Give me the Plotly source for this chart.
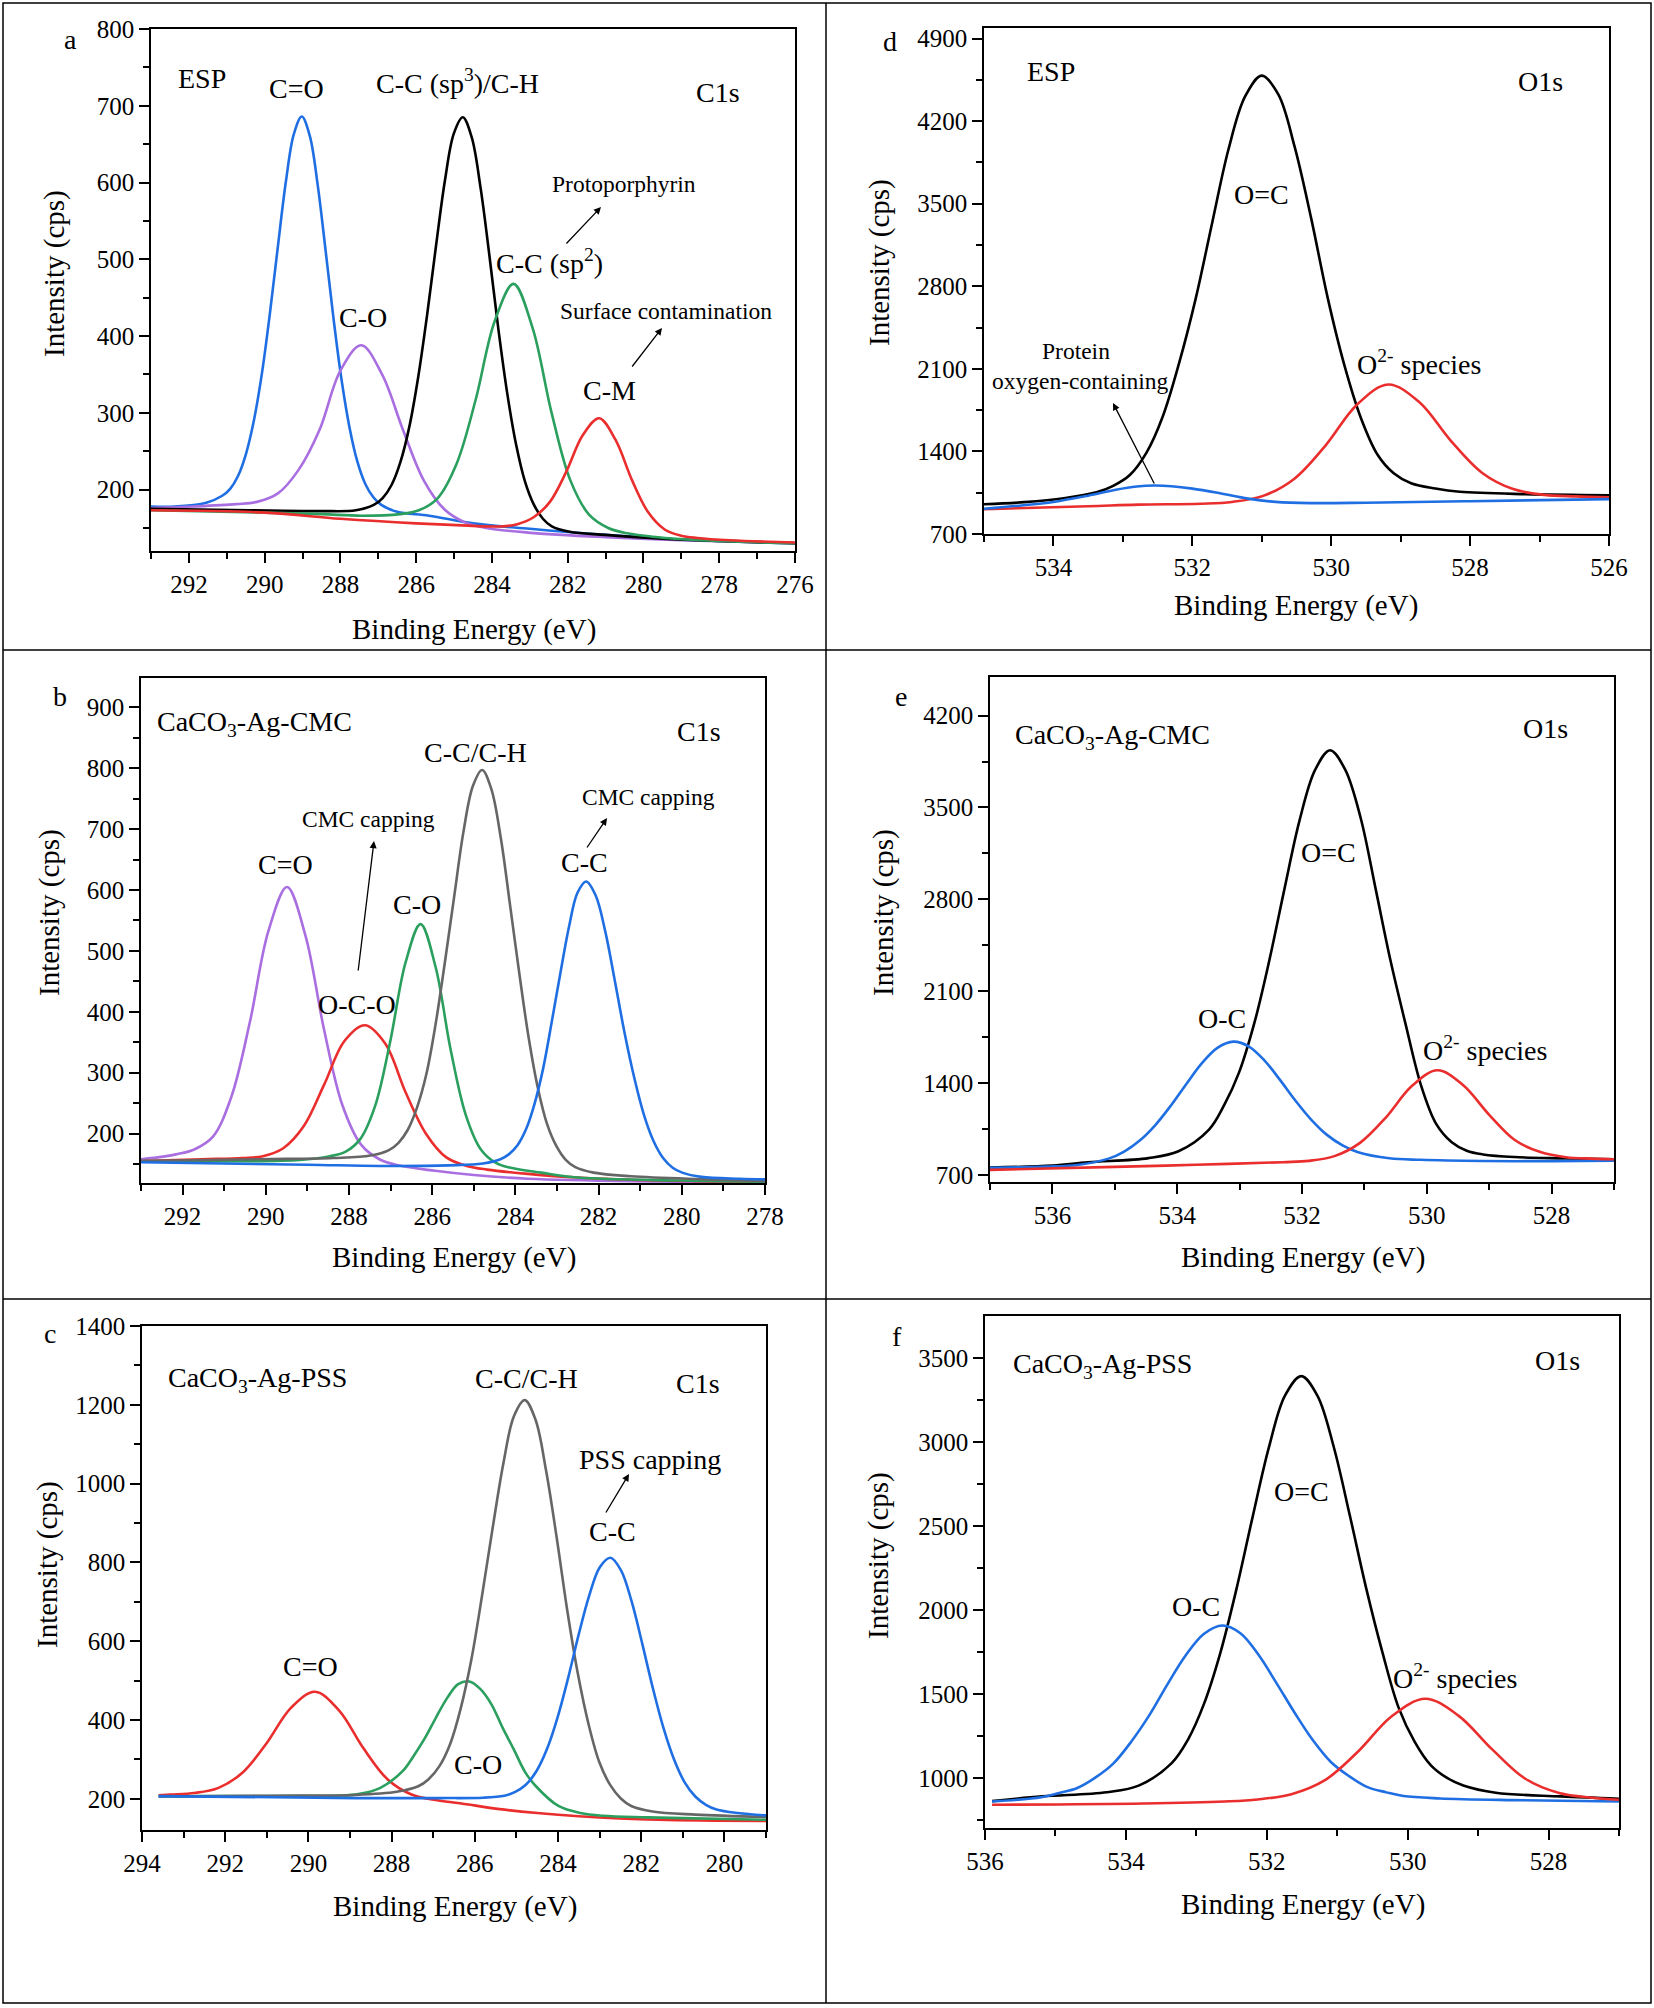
import plotly.graph_objects as go

W, H = 1654, 2008
FONT = "Liberation Serif"

BLUE = "#1f6fe3"
PURPLE = "#a96ee0"
GREEN = "#2a9f5e"
RED = "#ea2d2d"
BLACK = "#000000"
GRAY = "#666666"

# ---------------- data ----------------
# a: ESP, C1s
a_cdo_x = [293, 292.38, 291.54, 291.12, 290.91, 290.70, 290.49, 290.28, 290.07, 289.86, 289.65, 289.44, 289.23, 289.02, 288.81, 288.60, 288.39, 288.18, 287.97, 287.76, 287.55, 287.34, 287.13, 286.92, 286.50, 285.66, 284.5, 283, 281, 279, 276]
a_cdo_y = [178, 178, 183, 192, 201, 218, 247, 291, 352, 430, 517, 601, 663, 686, 661, 597, 511, 422, 343, 281, 236, 207, 190, 180, 171, 166, 156, 149, 141, 135, 130]
a_cc3_x = [293, 290.41, 288.53, 287.59, 287.12, 286.885, 286.65, 286.415, 286.18, 285.945, 285.71, 285.475, 285.24, 285.005, 284.77, 284.535, 284.30, 284.065, 283.83, 283.595, 283.36, 283.125, 282.89, 282.655, 282.42, 281.95, 281.01, 279.5, 278, 276]
a_cc3_y = [175, 173, 172, 173, 180, 189, 206, 236, 282, 347, 428, 518, 603, 664, 685, 659, 593, 504, 409, 325, 258, 210, 180, 162, 152, 145, 141, 136, 133, 130]
a_co_x = [293, 291.85, 290.75, 290.2, 289.65, 289.1, 288.55, 288.0, 287.45, 286.9, 286.35, 285.8, 285.25, 284.7, 284.15, 283.05, 281, 279, 276]
a_co_y = [176, 178, 181, 184, 195, 226, 278, 355, 388, 350, 278, 212, 174, 157, 150, 144, 138, 134, 130]
a_cc2_x = [293, 290, 288.5, 287.43, 286.43, 285.93, 285.43, 284.93, 284.43, 283.93, 283.43, 282.93, 282.43, 281.93, 281.43, 280.93, 280.43, 279.43, 278, 276]
a_cc2_y = [173, 170, 168, 166, 168, 173, 189, 234, 317, 419, 468, 411, 301, 212, 167, 150, 143, 137, 133, 130]
a_cm_x = [293, 290, 288, 286, 284.63, 283.77, 283.33, 282.90, 282.47, 282.04, 281.60, 281.17, 280.74, 280.30, 279.87, 279.44, 279.01, 278.58, 277.71, 276]
a_cm_y = [173, 170, 162, 156, 153, 152, 155, 164, 184, 223, 271, 293, 265, 212, 170, 148, 140, 137, 134, 131]

# b: CaCO3-Ag-CMC, C1s
b_cdo_x = [293, 292.6, 292.16, 291.72, 291.27, 290.83, 290.38, 289.94, 289.49, 289.05, 288.60, 288.16, 287.71, 287.27, 286.82, 285.93, 285, 283.7, 281.2, 278]
b_cdo_y = [158, 161, 166, 174, 195, 260, 384, 532, 605, 526, 371, 247, 182, 158, 148, 139, 132, 126, 122, 121]
b_oco_x = [293, 291.54, 290.56, 290.07, 289.58, 289.09, 288.60, 288.11, 287.62, 287.13, 286.64, 286.15, 285.66, 285.17, 284.68, 283.7, 282.5, 280.5, 278]
b_oco_y = [155, 158, 160, 163, 176, 212, 280, 352, 378, 348, 268, 200, 161, 147, 141, 134, 128, 123, 121]
b_co_x = [293, 289.18, 288.46, 288.09, 287.73, 287.37, 287.01, 286.64, 286.28, 285.92, 285.56, 285.19, 284.83, 284.47, 284.11, 283.38, 282.5, 280, 278]
b_co_y = [155, 157, 163, 170, 191, 246, 351, 481, 544, 474, 339, 230, 174, 152, 144, 136, 128, 123, 121]
b_cch_x = [293, 290.17, 288.38, 287.485, 287.04, 286.81, 286.59, 286.37, 286.14, 285.92, 285.70, 285.47, 285.25, 285.02, 284.80, 284.58, 284.35, 284.13, 283.90, 283.68, 283.46, 283.24, 283.01, 282.79, 282.56, 282.12, 281.22, 279.43, 278]
b_cch_y = [155, 158, 160, 164, 173, 185, 206, 242, 298, 379, 479, 590, 695, 771, 797, 766, 685, 576, 460, 357, 275, 216, 179, 157, 145, 136, 130, 125, 122]
b_cc_x = [293, 289, 287.25, 285.6, 284.78, 284.36, 284.16, 283.95, 283.74, 283.54, 283.33, 283.13, 282.92, 282.71, 282.51, 282.3, 282.07, 281.84, 281.61, 281.38, 281.14, 280.91, 280.68, 280.45, 280.22, 279.99, 279.53, 278.6, 278]
b_cc_y = [153, 149, 147, 148, 151, 158, 166, 181, 208, 249, 308, 382, 463, 540, 595, 614, 591, 532, 451, 367, 291, 231, 188, 160, 144, 136, 129, 126, 125]

# c: CaCO3-Ag-PSS, C1s
c_cdo_x = [293.6, 293.32, 292.74, 292.16, 291.58, 291.0, 290.42, 289.84, 289.26, 288.68, 288.10, 287.52, 286.94, 286.36, 285.4, 284.5, 283.5, 281.6, 279]
c_cdo_y = [209, 211, 215, 228, 267, 342, 431, 472, 424, 329, 250, 211, 197, 189, 174, 164, 156, 147, 144]
c_co_x = [293.6, 292.55, 290.41, 289.34, 288.8, 288.27, 287.73, 287.47, 287.2, 286.93, 286.67, 286.4, 286.13, 285.87, 285.6, 285.33, 285.06, 284.79, 284.53, 283.99, 283.46, 282.92, 281.85, 279]
c_co_y = [206, 207, 207, 208, 212, 228, 271, 309, 354, 407, 455, 491, 498, 479, 440, 380, 325, 268, 232, 182, 164, 157, 153, 147]
c_cch_x = [293.6, 290.95, 288.9, 287.88, 287.36, 287.11, 286.85, 286.59, 286.34, 286.08, 285.83, 285.57, 285.31, 285.06, 284.8, 284.54, 284.29, 284.03, 283.78, 283.52, 283.26, 283.01, 282.75, 282.49, 282.24, 281.73, 280.7, 279]
c_cch_y = [206, 208, 210, 218, 232, 250, 283, 340, 429, 555, 713, 888, 1053, 1171, 1212, 1162, 1035, 862, 680, 516, 387, 294, 236, 201, 182, 168, 160, 154]
c_cc_x = [293.6, 288.86, 286.82, 285.8, 285.29, 285.04, 284.78, 284.52, 284.27, 284.015, 283.76, 283.505, 283.25, 282.995, 282.74, 282.485, 282.23, 281.975, 281.72, 281.465, 281.21, 280.955, 280.70, 280.445, 280.19, 279.68, 279]
c_cc_y = [207, 202, 202, 203, 208, 217, 235, 270, 325, 405, 505, 616, 716, 788, 812, 780, 701, 594, 481, 380, 300, 242, 206, 185, 173, 164, 158]

# d: ESP, O1s
d_odc_x = [535, 534.42, 533.85, 533.38, 533.14, 532.9, 532.66, 532.43, 532.19, 531.95, 531.71, 531.48, 531.24, 531.0, 530.76, 530.53, 530.29, 530.05, 529.81, 529.57, 529.33, 529.1, 528.85, 528.5, 528.15, 527.2, 526]
d_odc_y = [952, 970, 1003, 1053, 1108, 1200, 1390, 1690, 2150, 2700, 3350, 3960, 4410, 4586, 4425, 3990, 3380, 2700, 2130, 1680, 1370, 1215, 1130, 1085, 1058, 1038, 1028]
d_o2_x = [535, 533.5, 532.78, 531.88, 531.43, 530.98, 530.53, 530.08, 529.63, 529.18, 528.73, 528.28, 527.83, 527.38, 526.93, 526.48, 526]
d_o2_y = [910, 935, 949, 957, 972, 1023, 1169, 1452, 1796, 1968, 1817, 1492, 1220, 1081, 1032, 1019, 1012]
d_prot_x = [535, 534.5, 534, 533.5, 533.1, 532.8, 532.55, 532.3, 532.0, 531.6, 531.2, 530.8, 530.3, 529.5, 528, 526]
d_prot_y = [914, 940, 972, 1025, 1075, 1102, 1111, 1105, 1085, 1045, 1000, 972, 962, 965, 978, 996]

# e: CaCO3-Ag-CMC, O1s
e_odc_x = [537, 536, 535.43, 534.46, 533.98, 533.49, 533.25, 533.01, 532.76, 532.52, 532.28, 532.04, 531.79, 531.55, 531.31, 531.06, 530.82, 530.58, 530.34, 530.09, 529.85, 529.6, 529.36, 529.1, 528.6, 527.8, 527]
e_odc_y = [757, 772, 797, 829, 881, 1046, 1230, 1480, 1865, 2343, 2882, 3400, 3786, 3936, 3790, 3420, 2880, 2330, 1850, 1380, 1090, 950, 885, 857, 837, 827, 820]
e_oc_x = [537, 536.1, 535.6, 535.1, 534.85, 534.6, 534.35, 534.1, 533.85, 533.6, 533.35, 533.1, 532.85, 532.6, 532.35, 532.1, 531.85, 531.6, 531.35, 531.1, 530.6, 530.1, 529.1, 528, 527]
e_oc_y = [755, 764, 777, 825, 879, 963, 1081, 1230, 1396, 1554, 1670, 1716, 1679, 1572, 1423, 1264, 1121, 1006, 926, 874, 828, 816, 807, 806, 810]
e_o2_x = [537, 535, 533.7, 532.31, 531.89, 531.48, 531.07, 530.65, 530.24, 529.83, 529.42, 529.0, 528.59, 528.18, 527.77, 527.36, 527]
e_o2_y = [739, 762, 778, 798, 808, 844, 945, 1142, 1378, 1498, 1386, 1159, 967, 875, 836, 825, 820]

# f: CaCO3-Ag-PSS, O1s
f_odc_x = [535.9, 535.19, 534.27, 533.81, 533.35, 533.12, 532.89, 532.66, 532.43, 532.2, 531.97, 531.74, 531.51, 531.28, 531.05, 530.82, 530.59, 530.36, 530.13, 529.9, 529.67, 529.44, 529.21, 528.75, 527.83, 527]
f_odc_y = [862, 890, 915, 956, 1088, 1227, 1442, 1743, 2125, 2555, 2967, 3276, 3391, 3274, 2971, 2560, 2131, 1750, 1420, 1215, 1075, 1000, 955, 912, 890, 876]
f_oc_x = [535.9, 535.2, 534.95, 534.69, 534.43, 534.18, 533.92, 533.66, 533.41, 533.15, 532.89, 532.63, 532.37, 532.12, 531.86, 531.6, 531.35, 531.09, 530.83, 530.57, 530.31, 530.06, 529.54, 528.51, 527]
f_oc_y = [860, 885, 910, 940, 1003, 1085, 1218, 1378, 1557, 1730, 1858, 1907, 1860, 1734, 1563, 1385, 1227, 1095, 1010, 945, 915, 892, 878, 868, 860]
f_o2_x = [535.9, 533.75, 532.6, 532.13, 531.65, 531.18, 530.7, 530.23, 529.75, 529.28, 528.8, 528.33, 527.85, 527.38, 527]
f_o2_y = [840, 848, 860, 872, 903, 985, 1159, 1366, 1471, 1371, 1170, 995, 910, 882, 870]

# ---------------- layout of the six panels ----------------
# name, plot box in px (left, top, right, bottom), x range, y range, y tick step
panels = [
    ("a", (151, 29, 795, 551), (293, 276), (120, 800), 100),
    ("b", (141, 678, 765, 1183), (293, 278), (119, 948), 100),
    ("c", (142, 1326, 766, 1830), (294, 279), (121, 1400), 200),
    ("d", (984, 28, 1609, 534), (535, 526), (700, 4990), 700),
    ("e", (990, 677, 1614, 1182), (537, 527), (647, 4494), 700),
    ("f", (985, 1316, 1619, 1828), (536, 527), (702, 3749), 500),
]

curves = {
    "a": [(a_cdo_x, a_cdo_y, BLUE), (a_co_x, a_co_y, PURPLE), (a_cc3_x, a_cc3_y, BLACK),
          (a_cc2_x, a_cc2_y, GREEN), (a_cm_x, a_cm_y, RED)],
    "b": [(b_cdo_x, b_cdo_y, PURPLE), (b_oco_x, b_oco_y, RED), (b_co_x, b_co_y, GREEN),
          (b_cch_x, b_cch_y, GRAY), (b_cc_x, b_cc_y, BLUE)],
    "c": [(c_cdo_x, c_cdo_y, RED), (c_co_x, c_co_y, GREEN), (c_cch_x, c_cch_y, GRAY),
          (c_cc_x, c_cc_y, BLUE)],
    "d": [(d_odc_x, d_odc_y, BLACK), (d_o2_x, d_o2_y, RED), (d_prot_x, d_prot_y, BLUE)],
    "e": [(e_odc_x, e_odc_y, BLACK), (e_oc_x, e_oc_y, BLUE), (e_o2_x, e_o2_y, RED)],
    "f": [(f_odc_x, f_odc_y, BLACK), (f_oc_x, f_oc_y, BLUE), (f_o2_x, f_o2_y, RED)],
}

fig = go.Figure()
layout = {}

for n, (name, (l, t, r, b), xr, yr, ystep) in enumerate(panels, start=1):
    sx = "" if n == 1 else str(n)
    for xs, ys, col in curves[name]:
        fig.add_trace(go.Scatter(
            x=xs, y=ys, mode="lines", xaxis="x" + sx, yaxis="y" + sx,
            line=dict(color=col, width=2.6, shape="spline", smoothing=1.0),
            showlegend=False, hoverinfo="skip"))

    common = dict(showgrid=False, zeroline=False, showline=True, mirror=True,
                  linecolor="black", linewidth=1.6, ticks="outside", ticklen=10,
                  tickwidth=1.5, tickcolor="black", tick0=0, automargin=False,
                  tickfont=dict(family=FONT, size=25, color="black"))
    layout["xaxis" + sx] = dict(
        common, domain=[l / W, r / W], anchor="y" + sx, range=list(xr), dtick=2,
        minor=dict(dtick=1, ticks="outside", ticklen=6, tickwidth=1.5, tickcolor="black"))
    layout["yaxis" + sx] = dict(
        common, domain=[1 - b / H, 1 - t / H], anchor="x" + sx, range=list(yr), dtick=ystep,
        minor=dict(dtick=ystep / 2, ticks="outside", ticklen=6, tickwidth=1.5, tickcolor="black"))

    # inward ticks on the top and right frame edges (10 divisions, as in Origin)
    k = str(n + 6)
    deco = dict(range=[0, 10], tick0=0, dtick=2, ticks="inside", ticklen=10, tickwidth=1.5,
                tickcolor="black", showticklabels=False, showgrid=False, zeroline=False,
                showline=False, automargin=False,
                minor=dict(dtick=1, ticks="inside", ticklen=6, tickwidth=1.5, tickcolor="black"))
    layout["xaxis" + k] = dict(deco, overlaying="x" + sx, side="top", anchor="y" + sx)
    layout["yaxis" + k] = dict(deco, overlaying="y" + sx, side="right", anchor="x" + sx)

# ---------------- text ----------------
BIG, SMALL, TITLE = 28, 23.5, 29
labels = [
    # panel a
    ("a", 70, 40, BIG), ("ESP", 202, 79, BIG), ("C=O", 296, 89, BIG),
    ("C-C (sp<sup>3</sup>)/C-H", 458, 82, BIG), ("C1s", 718, 93, BIG),
    ("Protoporphyrin", 624, 184, SMALL), ("C-C (sp<sup>2</sup>)", 549, 261, BIG),
    ("Surface contamination", 666, 311, SMALL), ("C-O", 363, 318, BIG), ("C-M", 609, 391, BIG),
    # panel d
    ("d", 890, 42, BIG), ("ESP", 1051, 72, BIG), ("O1s", 1540, 82, BIG), ("O=C", 1261, 194, BIG),
    ("O<sup>2-</sup> species", 1419, 363, BIG), ("Protein", 1076, 351, SMALL),
    ("oxygen-containing", 1080, 381, SMALL),
    # panel b
    ("b", 60, 696, BIG), ("CaCO<sub>3</sub>-Ag-CMC", 255, 723, BIG), ("C1s", 699, 731, BIG),
    ("C-C/C-H", 475, 752, BIG), ("CMC capping", 648, 797, SMALL), ("C-C", 584, 862, BIG),
    ("CMC capping", 368, 819, SMALL), ("C=O", 285, 864, BIG), ("C-O", 417, 905, BIG),
    ("O-C-O", 357, 1004, BIG),
    # panel e
    ("e", 901, 696, BIG), ("CaCO<sub>3</sub>-Ag-CMC", 1112, 736, BIG), ("O1s", 1545, 728, BIG),
    ("O=C", 1328, 852, BIG), ("O-C", 1222, 1018, BIG), ("O<sup>2-</sup> species", 1485, 1048, BIG),
    # panel c
    ("c", 50, 1333, BIG), ("CaCO<sub>3</sub>-Ag-PSS", 257, 1379, BIG), ("C-C/C-H", 526, 1378, BIG),
    ("C1s", 698, 1383, BIG), ("PSS capping", 650, 1459, BIG), ("C-C", 612, 1531, BIG),
    ("C=O", 310, 1666, BIG), ("C-O", 478, 1764, BIG),
    # panel f
    ("f", 897, 1336, BIG), ("CaCO<sub>3</sub>-Ag-PSS", 1102, 1365, BIG), ("O1s", 1557, 1360, BIG),
    ("O=C", 1301, 1491, BIG), ("O-C", 1196, 1606, BIG), ("O<sup>2-</sup> species", 1455, 1676, BIG),
]
x_titles = [(474, 629), (1296, 606), (454, 1257), (1303, 1257), (455, 1906), (1303, 1904)]
y_titles = [(54, 274), (879, 263), (50, 913), (884, 913), (47, 1565), (878, 1556)]
arrows = [((565, 245), (601, 207)), ((631, 368), (662, 328)), ((1155, 485), (1113, 403)),
          ((586, 849), (607, 818)), ((358, 972), (374, 841)), ((605, 1514), (629, 1474))]

ann = []
for text, px, py, size in labels:
    ann.append(dict(text=text, x=px / W, y=1 - py / H, xref="paper", yref="paper",
                    xanchor="center", yanchor="middle", showarrow=False,
                    font=dict(family=FONT, size=size, color="black")))
for px, py in x_titles:
    ann.append(dict(text="Binding Energy (eV)", x=px / W, y=1 - py / H, xref="paper", yref="paper",
                    xanchor="center", yanchor="middle", showarrow=False,
                    font=dict(family=FONT, size=TITLE, color="black")))
for px, py in y_titles:
    ann.append(dict(text="Intensity (cps)", x=px / W, y=1 - py / H, xref="paper", yref="paper",
                    xanchor="center", yanchor="middle", showarrow=False, textangle=-90,
                    font=dict(family=FONT, size=TITLE, color="black")))
for (tx, ty), (hx, hy) in arrows:
    ann.append(dict(text="", x=hx / W, y=1 - hy / H, xref="paper", yref="paper",
                    ax=tx - hx, ay=ty - hy, showarrow=True, arrowhead=2, arrowsize=1.1,
                    arrowwidth=1.3, arrowcolor="black"))

# panel frames
frame = dict(type="line", xref="paper", yref="paper", line=dict(color="black", width=1.5))
shapes = [
    dict(type="rect", xref="paper", yref="paper", x0=3 / W, x1=1651 / W, y0=1 - 2003 / H, y1=1 - 3 / H,
         line=dict(color="black", width=1.5)),
    dict(frame, x0=826 / W, x1=826 / W, y0=1 - 2003 / H, y1=1 - 3 / H),
    dict(frame, x0=3 / W, x1=1651 / W, y0=1 - 650 / H, y1=1 - 650 / H),
    dict(frame, x0=3 / W, x1=1651 / W, y0=1 - 1299 / H, y1=1 - 1299 / H),
]

fig.update_layout(layout)
fig.update_layout(width=W, height=H, autosize=False, margin=dict(l=0, r=0, t=0, b=0),
                  paper_bgcolor="white", plot_bgcolor="white", showlegend=False,
                  font=dict(family=FONT, color="black"),
                  annotations=ann, shapes=shapes)

# no body margin, so the 1654x2008 figure fills the window exactly
fig.write_html("out.html", config={"displayModeBar": False},
               post_script="document.body.style.margin = '0px';")
